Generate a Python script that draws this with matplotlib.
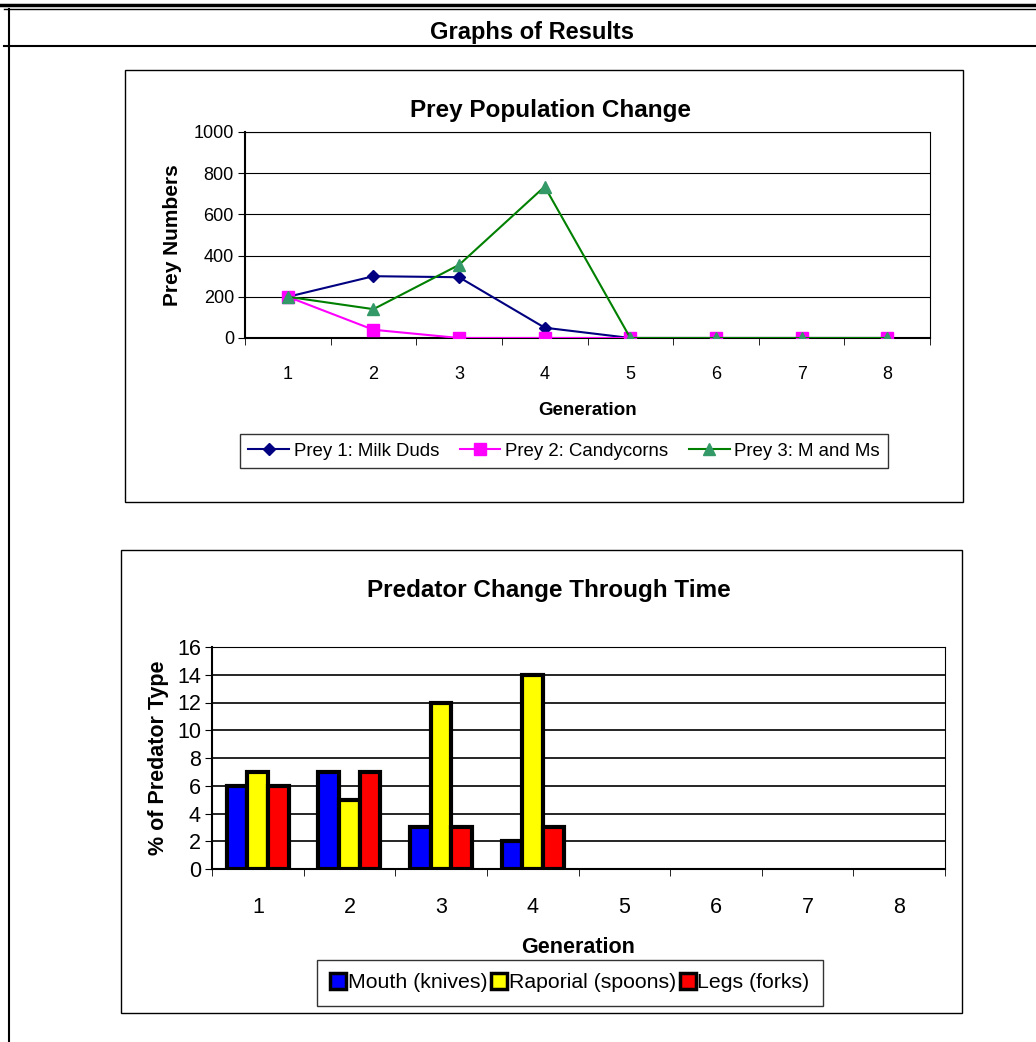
import matplotlib
matplotlib.use("Agg")
import matplotlib.pyplot as plt
import numpy as np
from matplotlib.patches import Rectangle
from matplotlib.lines import Line2D

plt.rcParams['font.family'] = ['Liberation Sans', 'DejaVu Sans']

# ---------------- data ----------------
generations = [1, 2, 3, 4, 5, 6, 7, 8]

prey_labels = ["Prey 1: Milk Duds", "Prey 2: Candycorns", "Prey 3: M and Ms"]
prey1 = [200, 300, 295, 50, 0, 0, 0, 0]
prey2 = [200, 40, 0, 0, 0, 0, 0, 0]
prey3 = [200, 140, 355, 735, 0, 0, 0, 0]

pred_labels = ["Mouth (knives)", "Raporial (spoons)", "Legs (forks)"]
mouth = [6, 7, 3, 2, np.nan, np.nan, np.nan, np.nan]
spoons = [7, 5, 12, 14, np.nan, np.nan, np.nan, np.nan]
legs = [6, 7, 3, 3, np.nan, np.nan, np.nan, np.nan]

W, H = 1036, 1042


def rect(x0, y0, x1, y1):
    return [x0 / W, 1 - y1 / H, (x1 - x0) / W, (y1 - y0) / H]


fig = plt.figure(figsize=(W / 100, H / 100), dpi=100)

# page frame drawn in pixel coords
bg = fig.add_axes([0, 0, 1, 1])
bg.set_xlim(0, W)
bg.set_ylim(H, 0)
bg.axis("off")
bg.plot([0, W], [5, 5], color="black", lw=2.5)
bg.plot([4, W], [9, 9], color="black", lw=1)
bg.plot([4, W], [46, 46], color="black", lw=1.5)
bg.plot([9, 9], [9, H], color="black", lw=1.5)
bg.text(532, 33, "Graphs of Results", ha="center", va="center",
        fontsize=17, fontweight="bold")

# chart boxes
bg.add_patch(Rectangle((125, 70), 838, 432, fill=False, ec="black", lw=1))
bg.add_patch(Rectangle((121, 550), 841, 463, fill=False, ec="black", lw=1))
bg.text(550, 110, "Prey Population Change", ha="center", va="center",
        fontsize=17.5, fontweight="bold")
bg.text(549, 590, "Predator Change Through Time", ha="center", va="center",
        fontsize=17.5, fontweight="bold")

##################################################
# Prey line chart

ax1 = fig.add_axes(rect(245, 132, 930, 338))
x = np.array(generations)

ax1.plot(x, prey1, color="#000080", lw=1.5, marker="D", ms=6,
         mfc="#000080", mec="#000080", label=prey_labels[0], zorder=3)
ax1.plot(x, prey2, color="#FF00FF", lw=1.5, marker="s", ms=8,
         mfc="#FF00FF", mec="#FF00FF", label=prey_labels[1], zorder=4)
ax1.plot(x, prey3, color="#008000", lw=1.5, marker="^", ms=9,
         mfc="#339966", mec="#339966", label=prey_labels[2], zorder=5)

ax1.set_xlim(0.5, 8.5)
ax1.set_ylim(0, 1000)
ax1.set_yticks(np.arange(0, 1001, 200))
ax1.yaxis.grid(True, color="black", lw=0.8)
ax1.set_axisbelow(True)
ax1.set_xticks(x)
ax1.tick_params(axis="x", length=0, pad=20, labelsize=13)
ax1.set_xticks(np.arange(0.5, 9, 1), minor=True)
ax1.tick_params(axis="x", which="minor", length=5, direction="out")
ax1.tick_params(axis="y", length=5, direction="out", labelsize=13, pad=3)
for s in ax1.spines.values():
    s.set_color("black")
ax1.spines["left"].set_linewidth(1.5)
ax1.spines["bottom"].set_linewidth(1.5)
ax1.set_xlabel("Generation", fontsize=13.5, fontweight="bold", labelpad=14)
ax1.set_ylabel("Prey Numbers", fontsize=15, fontweight="bold", labelpad=8)

leg1 = ax1.legend(loc="center", bbox_to_anchor=(564 / W, 1 - 451 / H),
                  bbox_transform=fig.transFigure, ncol=3, fontsize=13.4,
                  frameon=True, fancybox=False, edgecolor="black",
                  handlelength=2.2, handletextpad=0.25, columnspacing=1.1,
                  borderpad=0.45)
leg1.get_frame().set_linewidth(1)

##################################################
# Predator bar chart

ax2 = fig.add_axes(rect(212, 647, 945, 869))
bw = 0.226
colors = ["#0000FF", "#FFFF00", "#FF0000"]
for i, (vals, c, lab) in enumerate(zip([mouth, spoons, legs], colors, pred_labels)):
    ax2.bar(x + (i - 1) * bw, vals, width=bw, color=c, edgecolor="black",
            linewidth=3, label=lab, zorder=3)

ax2.set_xlim(0.5, 8.5)
ax2.set_ylim(0, 16)
ax2.set_yticks(np.arange(0, 17, 2))
ax2.yaxis.grid(True, color="black", lw=1.2)
ax2.set_axisbelow(True)
ax2.set_xticks(x)
ax2.tick_params(axis="x", length=0, pad=20, labelsize=15.5)
ax2.set_xticks(np.arange(0.5, 9, 1), minor=True)
ax2.tick_params(axis="x", which="minor", length=5, direction="out")
ax2.tick_params(axis="y", length=5, direction="out", labelsize=15.5, pad=3)
for s in ax2.spines.values():
    s.set_color("black")
ax2.spines["left"].set_linewidth(1.5)
ax2.spines["bottom"].set_linewidth(1.5)
ax2.set_xlabel("Generation", fontsize=15.5, fontweight="bold", labelpad=14)
ax2.set_ylabel("% of Predator Type", fontsize=15.5, fontweight="bold", labelpad=6)

handles = [Line2D([], [], marker="s", ls="none", ms=12, mfc=c, mec="black",
                  mew=2.5) for c in colors]
leg2 = ax2.legend(handles, pred_labels, loc="center",
                  bbox_to_anchor=(570 / W, 1 - 983 / H),
                  bbox_transform=fig.transFigure, ncol=3, fontsize=15.3,
                  frameon=True, fancybox=False, edgecolor="black",
                  handlelength=0.7, handletextpad=0.1, columnspacing=0.2,
                  borderpad=0.65)
leg2.get_frame().set_linewidth(1)

fig.savefig("out.png", dpi=100)
plt.close(fig)
